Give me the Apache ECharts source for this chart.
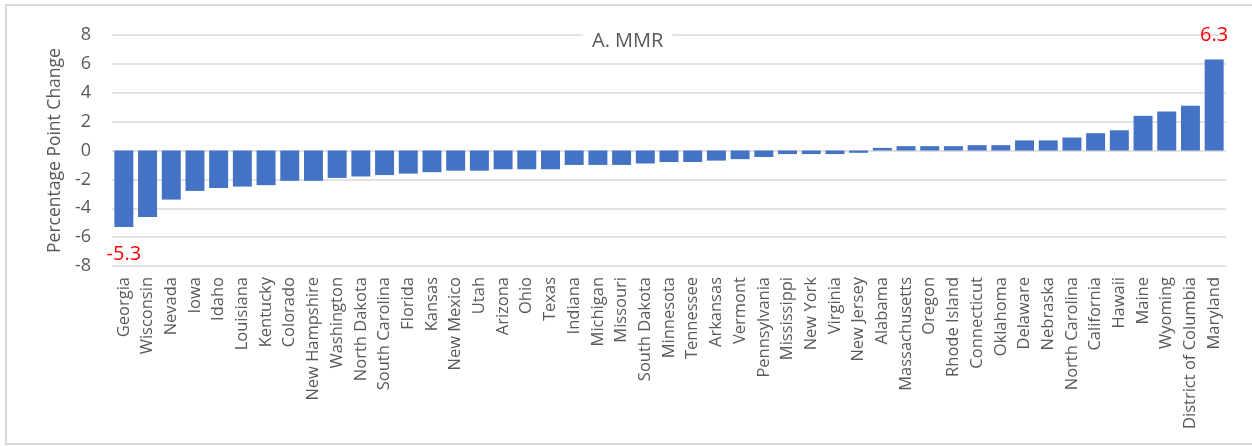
<!DOCTYPE html>
<html>
<head>
<meta charset="utf-8">
<script src="https://cdn.jsdelivr.net/npm/echarts@6/dist/echarts.min.js"></script>
<style>
html,body{margin:0;padding:0;background:#fff;}
#chart{width:1252px;height:446px;}
</style>
</head>
<body>
<div id="chart"></div>
<script>
const states = ["Georgia","Wisconsin","Nevada","Iowa","Idaho","Louisiana","Kentucky","Colorado","New Hampshire","Washington","North Dakota","South Carolina","Florida","Kansas","New Mexico","Utah","Arizona","Ohio","Texas","Indiana","Michigan","Missouri","South Dakota","Minnesota","Tennessee","Arkansas","Vermont","Pennsylvania","Mississippi","New York","Virginia","New Jersey","Alabama","Massachusetts","Oregon","Rhode Island","Connecticut","Oklahoma","Delaware","Nebraska","North Carolina","California","Hawaii","Maine","Wyoming","District of Columbia","Maryland"];
const values = [-5.3,-4.6,-3.4,-2.8,-2.6,-2.5,-2.4,-2.1,-2.1,-1.9,-1.8,-1.7,-1.6,-1.5,-1.4,-1.4,-1.3,-1.3,-1.3,-1.0,-1.0,-1.0,-0.9,-0.8,-0.8,-0.7,-0.6,-0.45,-0.25,-0.25,-0.25,-0.16,0.18,0.3,0.3,0.3,0.37,0.37,0.7,0.7,0.9,1.2,1.4,2.4,2.7,3.1,6.3];
const labeledStates = ["Georgia","Maryland"];
const yTicks = {min:-8, max:8, step:2};

const chart = echarts.init(document.getElementById('chart'));
const data = values.map((v,i)=>{
  const item = {value:v};
  if (labeledStates.includes(states[i])) {
    item.label = {show:true, position: v<0 ? 'bottom' : 'top', distance: v<0 ? 17 : 14,
      color:'#ff0000', fontSize:20, fontFamily:'Open Sans',
      formatter: p => p.value.toFixed(1)};
  }
  return item;
});
chart.setOption({
  animation:false,
  backgroundColor:'#fff',
  textStyle:{fontFamily:'Open Sans'},
  graphic:[{type:'rect', shape:{x:6,y:5,width:1270,height:439},
    style:{fill:'none', stroke:'#d9d9d9', lineWidth:2}, z:-10}],
  title:{text:'A. MMR', left:583, top:28,
    backgroundColor:'#fff', padding:[3,9],
    textStyle:{fontSize:20, fontWeight:'normal', color:'#595959', fontFamily:'Open Sans'}},
  grid:{left:112, right:26, top:35, bottom:180},
  xAxis:{type:'category', data:states,
    axisLine:{show:false}, axisTick:{show:false},
    axisLabel:{rotate:90, interval:0, fontSize:16.5, color:'#595959', margin:11}},
  yAxis:{type:'value', min:yTicks.min, max:yTicks.max, interval:yTicks.step,
    name:'Percentage Point Change', nameLocation:'middle', nameGap:48,
    nameTextStyle:{fontSize:17.5, color:'#595959'},
    axisLabel:{fontSize:18, color:'#595959', margin:21},
    splitLine:{lineStyle:{color:'#d9d9d9', width:1.5}}},
  series:[{type:'bar', data:data, barCategoryGap:'20%',
    itemStyle:{color:'#4472c4'}}]
});
</script>
</body>
</html>
